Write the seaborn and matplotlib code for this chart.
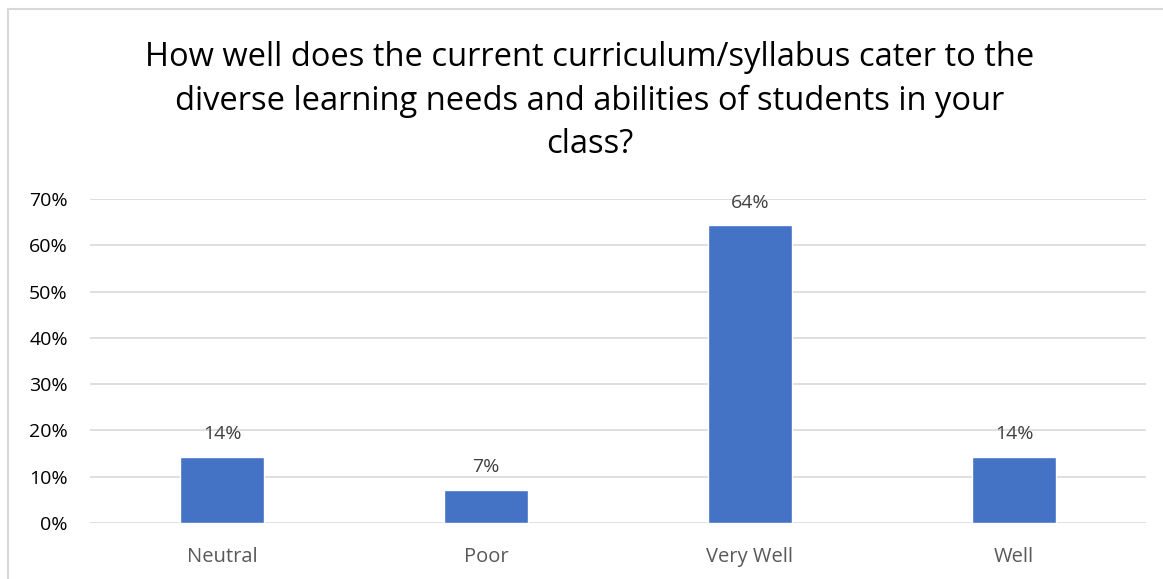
import seaborn as sns
import matplotlib.pyplot as plt
import matplotlib.patches as mpatches
import pandas as pd

# dati
categories = ['Neutral', 'Poor', 'Very Well', 'Well']
shares = [0.1429, 0.0714, 0.6429, 0.1429]
labels = ['14%', '7%', '64%', '14%']
yticks = [0.0, 0.1, 0.2, 0.3, 0.4, 0.5, 0.6, 0.7]
ytick_labels = ['0%', '10%', '20%', '30%', '40%', '50%', '60%', '70%']

df = pd.DataFrame({'risposta': categories, 'quota': shares})

sns.set_style('white')
plt.rcParams['font.family'] = ['Open Sans', 'DejaVu Sans']

fig = plt.figure(figsize=(11.63, 5.79), dpi=100)
ax = fig.add_axes([90 / 1163, 1 - 523 / 579, 1056 / 1163, 324 / 579])

sns.barplot(data=df, x='risposta', y='quota', color='#4472C4', saturation=1,
            width=0.315, ax=ax)

ax.set_ylim(0, 0.7)
ax.set_xlim(-0.5, 3.5)
ax.set_yticks(yticks)
ax.set_yticklabels(ytick_labels)
ax.yaxis.grid(True, color='#d9d9d9', linewidth=1.2)
ax.set_axisbelow(True)
for s in ax.spines.values():
    s.set_visible(False)
ax.set_xlabel('')
ax.set_ylabel('')
ax.tick_params(axis='y', labelsize=14, colors='#000000', length=0, pad=16)
ax.tick_params(axis='x', labelsize=14.5, colors='#595959', length=0, pad=17)

for c, l in zip(ax.containers, [labels]):
    ax.bar_label(c, labels=l, padding=10, fontsize=14, color='#404040')

fig.text(590 / 1163, 1 - 101 / 579, 'How well does the current curriculum/syllabus cater to the\n'
         'diverse learning needs and abilities of students in your\nclass?',
         ha='center', va='center', fontsize=23.5, color='#000000', linespacing=1.42)

# cornice del grafico
fig.patches.append(mpatches.Rectangle((8 / 1163, -0.01), 1.05, 1 - 9 / 579 + 0.01,
                                      transform=fig.transFigure, fill=False,
                                      edgecolor='#d9d9d9', linewidth=1.5))

fig.savefig('out.png', dpi=100)
